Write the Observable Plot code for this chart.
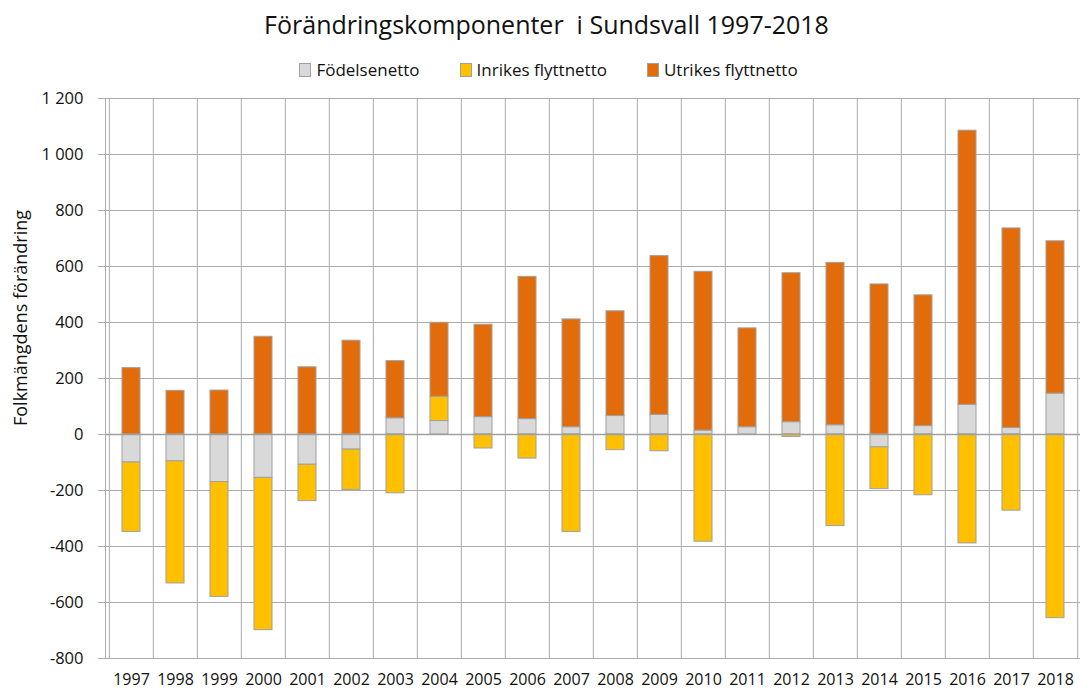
<!DOCTYPE html>
<html>
<head>
<meta charset="utf-8">
<script src="https://cdn.jsdelivr.net/npm/d3@7"></script>
<script src="https://cdn.jsdelivr.net/npm/@observablehq/plot@0.6"></script>
<style>
  body { margin: 0; background: #fff; font-family: "Open Sans", sans-serif; color: #111; }
  #wrap { position: relative; width: 1083px; height: 691px; overflow: hidden; }
  #title { text-align: center; font-size: 25px; line-height: 32px; padding-top: 8px; height: 42px; padding-left: 10px; }
  #legend { display: flex; justify-content: center; gap: 40px; font-size: 17px; line-height: 24px; margin-top: 8px; height: 24px; padding-left: 14px; }
  #legend span.item { display: flex; align-items: center; }
  #legend span.sw { display: inline-block; width: 10px; height: 12px; border: 1px solid #a0a0a0; margin-right: 5px; }
  #ylabel { position: absolute; z-index: 2; left: 20px; top: 318px; transform: translate(-50%, -50%) rotate(-90deg); font-size: 18px; white-space: nowrap; }
  #chart { position: absolute; z-index: 1; left: 0; top: 84px; }
</style>
</head>
<body>
<div id="wrap">
  <div id="title">Förändringskomponenter&nbsp; i Sundsvall 1997-2018</div>
  <div id="legend"></div>
  <div id="ylabel">Folkmängdens förändring</div>
  <div id="chart"></div>
</div>
<script>
const years = ["1997","1998","1999","2000","2001","2002","2003","2004","2005","2006","2007","2008","2009","2010","2011","2012","2013","2014","2015","2016","2017","2018"];
const seriesNames = ["Födelsenetto", "Inrikes flyttnetto", "Utrikes flyttnetto"];
const seriesColors = ["#d9d9d9", "#ffc000", "#e36c0a"];
const fodelsenetto = [-100,-96,-170,-155,-108,-54,58,48,62,55,26,66,70,14,26,44,33,-46,30,106,23,146];
const inrikesFlyttnetto = [-248,-436,-410,-544,-130,-144,-210,87,-50,-86,-348,-56,-60,-383,0,-9,-327,-149,-217,-389,-272,-656];
const utrikesFlyttnetto = [237,156,157,349,240,335,204,264,330,508,385,374,567,567,353,532,580,536,467,979,713,544];
const yTicks = [-800,-600,-400,-200,0,200,400,600,800,1000,1200];

const seriesValues = [fodelsenetto, inrikesFlyttnetto, utrikesFlyttnetto];
const rows = [];
years.forEach((yr, i) => {
  seriesNames.forEach((s, j) => rows.push({year: yr, series: s, value: seriesValues[j][i]}));
});

// legend
const legend = document.getElementById("legend");
seriesNames.forEach((s, j) => {
  const it = document.createElement("span");
  it.className = "item";
  it.innerHTML = `<span class="sw" style="background:${seriesColors[j]}"></span>${s}`;
  legend.appendChild(it);
});

const fmt = d3.formatLocale({decimal: ",", thousands: "\u00a0", grouping: [3], currency: ["", ""], minus: "-"}).format(",d");

const W = 1083, H = 607, mL = 105, mR = 3, mT = 14, mB = 33;
const step = (W - mL - mR) / years.length;
const gridColor = "#ababab";

const chart = Plot.plot({
  width: W, height: H,
  marginLeft: mL, marginRight: mR, marginTop: mT, marginBottom: mB,
  style: {fontFamily: "Open Sans, sans-serif", fontSize: "16px", color: "#111", background: "#fff"},
  x: {type: "band", domain: years, paddingInner: 0.6, paddingOuter: 0.3, label: null},
  y: {domain: [-800, 1200], label: null},
  color: {domain: seriesNames, range: seriesColors},
  marks: [
    Plot.ruleY(yTicks, {stroke: gridColor, strokeWidth: 1}),
    Plot.ruleX(years, {dx: -step / 2, stroke: gridColor, strokeWidth: 1}),
    Plot.ruleX([years[years.length - 1]], {dx: step / 2, stroke: gridColor, strokeWidth: 1}),
    Plot.barY(rows, {x: "year", y: "value", fill: "series", z: "series", stroke: "#a0a0a0", strokeWidth: 1}),
    Plot.ruleY([0], {stroke: "#a0a0a0", strokeWidth: 1.5}),
    Plot.axisY({ticks: yTicks, tickFormat: fmt, tickSize: 7, tickPadding: 15, stroke: gridColor, fontSize: 16.5, label: null}),
    Plot.frame({anchor: "left", stroke: gridColor}),
    Plot.axisX({tickSize: 0, tickPadding: 15, fontSize: 16, label: null})
  ]
});
document.getElementById("chart").appendChild(chart);
</script>
</body>
</html>
